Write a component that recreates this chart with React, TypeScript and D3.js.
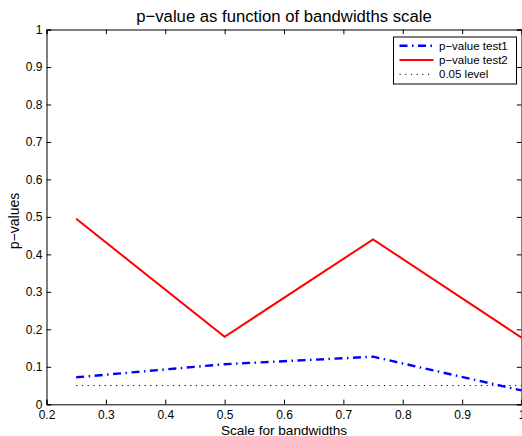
import React, { useEffect, useRef } from "react";
import * as d3 from "d3";

const scales = [0.25, 0.5, 0.75, 1];
const test1 = [0.072, 0.107, 0.127, 0.037];
const test2 = [0.495, 0.18, 0.44, 0.178];
const level = [0.05, 0.05, 0.05, 0.05];
const xTicks = [0.2, 0.3, 0.4, 0.5, 0.6, 0.7, 0.8, 0.9, 1];
const yTicks = [0, 0.1, 0.2, 0.3, 0.4, 0.5, 0.6, 0.7, 0.8, 0.9, 1];

const series = [
  { label: "p\u2212value test1", values: test1, color: "#0000ff", width: 2.4, dash: "8,4.5,1.5,4.5" },
  { label: "p\u2212value test2", values: test2, color: "#ff0000", width: 2, dash: null },
  { label: "0.05 level", values: level, color: "#000000", width: 1, dash: "1.2,4.5" },
];

const App = () => {
  const svgRef = useRef<SVGSVGElement>(null);

  useEffect(() => {
    const width = 522;
    const height = 436;
    const margin = { top: 29.5, right: 0.5, bottom: 31.7, left: 46.5 };
    const svg = d3.select(svgRef.current);
    svg.selectAll("*").remove();
    svg.attr("width", width).attr("height", height);
    const font = "Liberation Sans, Arial, sans-serif";

    const x = d3.scaleLinear().domain([0.2, 1]).range([margin.left, width - margin.right]);
    const y = d3.scaleLinear().domain([0, 1]).range([height - margin.bottom, margin.top]);

    svg.append("rect").attr("width", width).attr("height", height).attr("fill", "#fff");

    // ----- axes (ticks inside, box around)
    const fmt = (d: number) => String(d);
    const tk = 4.7;
    svg.append("g")
      .attr("transform", `translate(0,${y(0)})`)
      .call(d3.axisBottom(x).tickValues(xTicks).tickSize(-tk).tickPadding(6).tickFormat(fmt as any));
    svg.append("g")
      .attr("transform", `translate(0,${y(1)})`)
      .call(d3.axisTop(x).tickValues(xTicks).tickSize(-tk).tickFormat(() => ""));
    svg.append("g")
      .attr("transform", `translate(${x(0.2)},0)`)
      .call(d3.axisLeft(y).tickValues(yTicks).tickSize(-tk).tickPadding(4).tickFormat(fmt as any));
    svg.append("g")
      .attr("transform", `translate(${x(1)},0)`)
      .call(d3.axisRight(y).tickValues(yTicks).tickSize(-tk).tickFormat(() => ""));
    svg.selectAll(".domain").attr("stroke", "#000").attr("stroke-width", 1);
    svg.selectAll(".tick line").attr("stroke", "#000");
    svg.selectAll(".tick text").attr("font-family", font).attr("font-size", 12).attr("fill", "#000");

    // ----- lines
    const line = d3.line<number>().x((_, i) => x(scales[i])).y(d => y(d));
    series.forEach(s => {
      svg.append("path")
        .datum(s.values)
        .attr("d", line)
        .attr("fill", "none")
        .attr("stroke", s.color)
        .attr("stroke-width", s.width)
        .attr("stroke-dasharray", s.dash);
    });

    // ----- legend
    const lg = svg.append("g").attr("transform", "translate(393.5,37)");
    lg.append("rect").attr("width", 123).attr("height", 47).attr("fill", "#fff").attr("stroke", "#000");
    series.forEach((s, i) => {
      const yy = 8.7 + i * 14.3;
      lg.append("line")
        .attr("x1", 6).attr("x2", 40).attr("y1", yy).attr("y2", yy)
        .attr("stroke", s.color).attr("stroke-width", s.width)
        .attr("stroke-dasharray", s.dash);
      lg.append("text")
        .attr("x", 45.5).attr("y", yy).attr("dy", "0.35em")
        .attr("font-family", font).attr("font-size", 11.5)
        .text(s.label);
    });

    // ----- titles
    svg.append("text")
      .attr("x", (x(0.2) + x(1)) / 2).attr("y", 21.5)
      .attr("text-anchor", "middle")
      .attr("font-family", font).attr("font-size", 16.7)
      .text("p\u2212value as function of bandwidths scale");
    svg.append("text")
      .attr("x", (x(0.2) + x(1)) / 2).attr("y", 434.5)
      .attr("text-anchor", "middle")
      .attr("font-family", font).attr("font-size", 13.6)
      .text("Scale for bandwidths");
    svg.append("text")
      .attr("transform", `translate(18.5,221) rotate(-90)`)
      .attr("text-anchor", "middle")
      .attr("font-family", font).attr("font-size", 14)
      .text("p\u2212values");
  }, []);

  return (
    <div style={{ position: "absolute", left: 0, top: 0 }}>
      <svg ref={svgRef} style={{ display: "block" }} />
    </div>
  );
};

export default App;
